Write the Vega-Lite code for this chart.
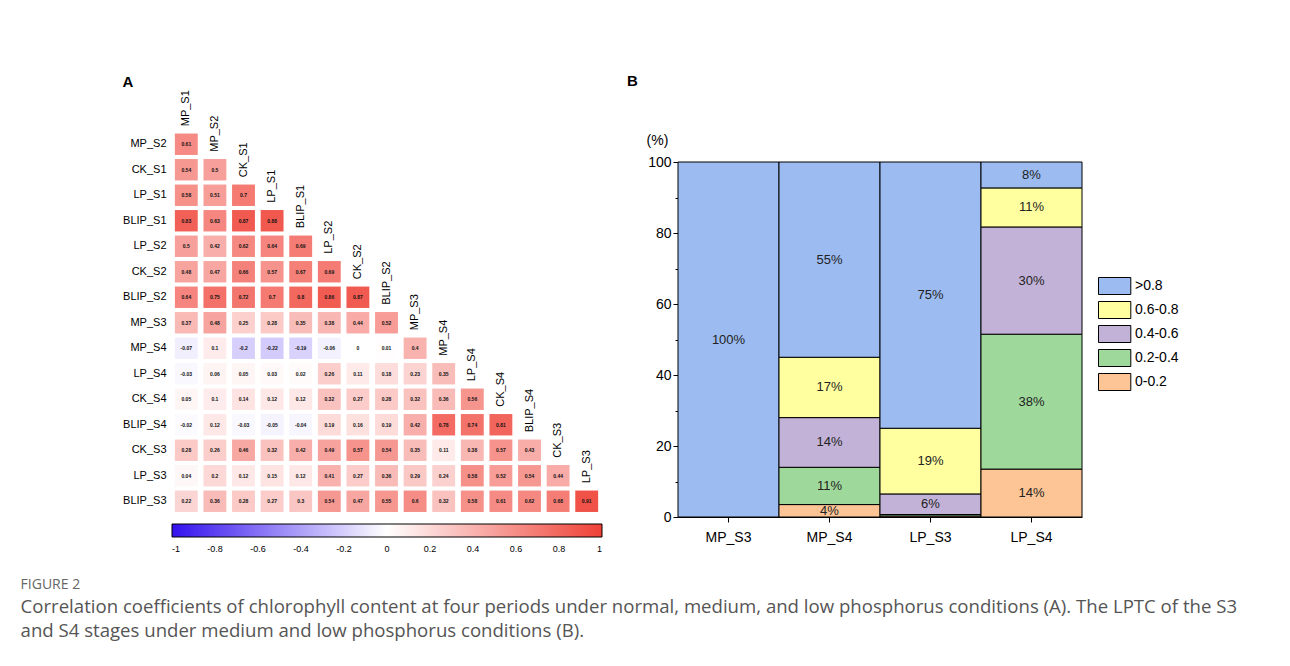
{
  "$schema": "https://vega.github.io/schema/vega-lite/v6.json",
  "padding": {"left": 20, "top": 74, "right": 5, "bottom": 5},
  "config": {"font": "Liberation Sans", "view": {"stroke": null}, "concat": {"spacing": 24}},
  "title": {
    "text": "FIGURE 2",
    "subtitle": ["Correlation coefficients of chlorophyll content at four periods under normal, medium, and low phosphorus conditions (A). The LPTC of the S3", "and S4 stages under medium and low phosphorus conditions (B)."],
    "orient": "bottom", "anchor": "start", "dx": -102, "offset": 24,
    "font": "Open Sans", "fontSize": 14, "fontWeight": "normal", "color": "#666",
    "subtitleFont": "Open Sans", "subtitleFontSize": 18.6, "subtitleColor": "#555", "subtitleLineHeight": 24, "subtitlePadding": 6
  },
  "datasets": {
    "corr": [
      {"y":"MP_S2","x":"MP_S1","r":0.61},
      {"y":"CK_S1","x":"MP_S1","r":0.54},{"y":"CK_S1","x":"MP_S2","r":0.5},
      {"y":"LP_S1","x":"MP_S1","r":0.58},{"y":"LP_S1","x":"MP_S2","r":0.51},{"y":"LP_S1","x":"CK_S1","r":0.7},
      {"y":"BLIP_S1","x":"MP_S1","r":0.83},{"y":"BLIP_S1","x":"MP_S2","r":0.63},{"y":"BLIP_S1","x":"CK_S1","r":0.87},{"y":"BLIP_S1","x":"LP_S1","r":0.88},
      {"y":"LP_S2","x":"MP_S1","r":0.5},{"y":"LP_S2","x":"MP_S2","r":0.42},{"y":"LP_S2","x":"CK_S1","r":0.62},{"y":"LP_S2","x":"LP_S1","r":0.64},{"y":"LP_S2","x":"BLIP_S1","r":0.69},
      {"y":"CK_S2","x":"MP_S1","r":0.48},{"y":"CK_S2","x":"MP_S2","r":0.47},{"y":"CK_S2","x":"CK_S1","r":0.66},{"y":"CK_S2","x":"LP_S1","r":0.57},{"y":"CK_S2","x":"BLIP_S1","r":0.67},{"y":"CK_S2","x":"LP_S2","r":0.69},
      {"y":"BLIP_S2","x":"MP_S1","r":0.64},{"y":"BLIP_S2","x":"MP_S2","r":0.75},{"y":"BLIP_S2","x":"CK_S1","r":0.72},{"y":"BLIP_S2","x":"LP_S1","r":0.7},{"y":"BLIP_S2","x":"BLIP_S1","r":0.8},{"y":"BLIP_S2","x":"LP_S2","r":0.86},{"y":"BLIP_S2","x":"CK_S2","r":0.87},
      {"y":"MP_S3","x":"MP_S1","r":0.37},{"y":"MP_S3","x":"MP_S2","r":0.48},{"y":"MP_S3","x":"CK_S1","r":0.25},{"y":"MP_S3","x":"LP_S1","r":0.28},{"y":"MP_S3","x":"BLIP_S1","r":0.35},{"y":"MP_S3","x":"LP_S2","r":0.38},{"y":"MP_S3","x":"CK_S2","r":0.44},{"y":"MP_S3","x":"BLIP_S2","r":0.52},
      {"y":"MP_S4","x":"MP_S1","r":-0.07},{"y":"MP_S4","x":"MP_S2","r":0.1},{"y":"MP_S4","x":"CK_S1","r":-0.2},{"y":"MP_S4","x":"LP_S1","r":-0.22},{"y":"MP_S4","x":"BLIP_S1","r":-0.19},{"y":"MP_S4","x":"LP_S2","r":-0.06},{"y":"MP_S4","x":"CK_S2","r":0},{"y":"MP_S4","x":"BLIP_S2","r":0.01},{"y":"MP_S4","x":"MP_S3","r":0.4},
      {"y":"LP_S4","x":"MP_S1","r":-0.03},{"y":"LP_S4","x":"MP_S2","r":0.06},{"y":"LP_S4","x":"CK_S1","r":0.05},{"y":"LP_S4","x":"LP_S1","r":0.03},{"y":"LP_S4","x":"BLIP_S1","r":0.02},{"y":"LP_S4","x":"LP_S2","r":0.26},{"y":"LP_S4","x":"CK_S2","r":0.11},{"y":"LP_S4","x":"BLIP_S2","r":0.18},{"y":"LP_S4","x":"MP_S3","r":0.23},{"y":"LP_S4","x":"MP_S4","r":0.35},
      {"y":"CK_S4","x":"MP_S1","r":0.05},{"y":"CK_S4","x":"MP_S2","r":0.1},{"y":"CK_S4","x":"CK_S1","r":0.14},{"y":"CK_S4","x":"LP_S1","r":0.12},{"y":"CK_S4","x":"BLIP_S1","r":0.12},{"y":"CK_S4","x":"LP_S2","r":0.32},{"y":"CK_S4","x":"CK_S2","r":0.27},{"y":"CK_S4","x":"BLIP_S2","r":0.28},{"y":"CK_S4","x":"MP_S3","r":0.32},{"y":"CK_S4","x":"MP_S4","r":0.36},{"y":"CK_S4","x":"LP_S4","r":0.56},
      {"y":"BLIP_S4","x":"MP_S1","r":-0.02},{"y":"BLIP_S4","x":"MP_S2","r":0.12},{"y":"BLIP_S4","x":"CK_S1","r":-0.03},{"y":"BLIP_S4","x":"LP_S1","r":-0.05},{"y":"BLIP_S4","x":"BLIP_S1","r":-0.04},{"y":"BLIP_S4","x":"LP_S2","r":0.19},{"y":"BLIP_S4","x":"CK_S2","r":0.16},{"y":"BLIP_S4","x":"BLIP_S2","r":0.19},{"y":"BLIP_S4","x":"MP_S3","r":0.42},{"y":"BLIP_S4","x":"MP_S4","r":0.78},{"y":"BLIP_S4","x":"LP_S4","r":0.74},{"y":"BLIP_S4","x":"CK_S4","r":0.81},
      {"y":"CK_S3","x":"MP_S1","r":0.28},{"y":"CK_S3","x":"MP_S2","r":0.26},{"y":"CK_S3","x":"CK_S1","r":0.46},{"y":"CK_S3","x":"LP_S1","r":0.32},{"y":"CK_S3","x":"BLIP_S1","r":0.42},{"y":"CK_S3","x":"LP_S2","r":0.49},{"y":"CK_S3","x":"CK_S2","r":0.57},{"y":"CK_S3","x":"BLIP_S2","r":0.54},{"y":"CK_S3","x":"MP_S3","r":0.35},{"y":"CK_S3","x":"MP_S4","r":0.11},{"y":"CK_S3","x":"LP_S4","r":0.38},{"y":"CK_S3","x":"CK_S4","r":0.57},{"y":"CK_S3","x":"BLIP_S4","r":0.43},
      {"y":"LP_S3","x":"MP_S1","r":0.04},{"y":"LP_S3","x":"MP_S2","r":0.2},{"y":"LP_S3","x":"CK_S1","r":0.12},{"y":"LP_S3","x":"LP_S1","r":0.15},{"y":"LP_S3","x":"BLIP_S1","r":0.12},{"y":"LP_S3","x":"LP_S2","r":0.41},{"y":"LP_S3","x":"CK_S2","r":0.27},{"y":"LP_S3","x":"BLIP_S2","r":0.36},{"y":"LP_S3","x":"MP_S3","r":0.29},{"y":"LP_S3","x":"MP_S4","r":0.24},{"y":"LP_S3","x":"LP_S4","r":0.58},{"y":"LP_S3","x":"CK_S4","r":0.52},{"y":"LP_S3","x":"BLIP_S4","r":0.54},{"y":"LP_S3","x":"CK_S3","r":0.44},
      {"y":"BLIP_S3","x":"MP_S1","r":0.22},{"y":"BLIP_S3","x":"MP_S2","r":0.36},{"y":"BLIP_S3","x":"CK_S1","r":0.28},{"y":"BLIP_S3","x":"LP_S1","r":0.27},{"y":"BLIP_S3","x":"BLIP_S1","r":0.3},{"y":"BLIP_S3","x":"LP_S2","r":0.54},{"y":"BLIP_S3","x":"CK_S2","r":0.47},{"y":"BLIP_S3","x":"BLIP_S2","r":0.55},{"y":"BLIP_S3","x":"MP_S3","r":0.6},{"y":"BLIP_S3","x":"MP_S4","r":0.32},{"y":"BLIP_S3","x":"LP_S4","r":0.58},{"y":"BLIP_S3","x":"CK_S4","r":0.61},{"y":"BLIP_S3","x":"BLIP_S4","r":0.62},{"y":"BLIP_S3","x":"CK_S3","r":0.68},{"y":"BLIP_S3","x":"LP_S3","r":0.91}
    ],
    "vars": [
      {"v":"MP_S1"},{"v":"MP_S2"},{"v":"CK_S1"},{"v":"LP_S1"},{"v":"BLIP_S1"},{"v":"LP_S2"},{"v":"CK_S2"},{"v":"BLIP_S2"},
      {"v":"MP_S3"},{"v":"MP_S4"},{"v":"LP_S4"},{"v":"CK_S4"},{"v":"BLIP_S4"},{"v":"CK_S3"},{"v":"LP_S3"}
    ],
    "lptc": [
      {"g":"MP_S3","c":">0.8","p":100,"t":"100%"},
      {"g":"MP_S4","c":"0-0.2","p":3.5,"t":"4%"},
      {"g":"MP_S4","c":"0.2-0.4","p":10.5,"t":"11%"},
      {"g":"MP_S4","c":"0.4-0.6","p":14,"t":"14%"},
      {"g":"MP_S4","c":"0.6-0.8","p":17,"t":"17%"},
      {"g":"MP_S4","c":">0.8","p":55,"t":"55%"},
      {"g":"LP_S3","c":"0-0.2","p":0.3,"t":""},
      {"g":"LP_S3","c":"0.2-0.4","p":0.4,"t":""},
      {"g":"LP_S3","c":"0.4-0.6","p":5.8,"t":"6%"},
      {"g":"LP_S3","c":"0.6-0.8","p":18.5,"t":"19%"},
      {"g":"LP_S3","c":">0.8","p":75,"t":"75%"},
      {"g":"LP_S4","c":"0-0.2","p":13.5,"t":"14%"},
      {"g":"LP_S4","c":"0.2-0.4","p":38,"t":"38%"},
      {"g":"LP_S4","c":"0.4-0.6","p":30.2,"t":"30%"},
      {"g":"LP_S4","c":"0.6-0.8","p":11,"t":"11%"},
      {"g":"LP_S4","c":">0.8","p":7.3,"t":"8%"}
    ]
  },
  "hconcat": [
    {
      "width": 429,
      "height": 408,
      "title": {"text": "A", "anchor": "start", "fontSize": 15, "fontWeight": "bold", "offset": 0, "color": "black"},
      "layer": [
        {
          "data": {"name": "corr"},
          "mark": {"type": "rect"},
          "encoding": {
            "x": {"field": "x", "type": "nominal", "title": null,
                  "scale": {"domain": ["MP_S1","MP_S2","CK_S1","LP_S1","BLIP_S1","LP_S2","CK_S2","BLIP_S2","MP_S3","MP_S4","LP_S4","CK_S4","BLIP_S4","CK_S3","LP_S3"], "paddingInner": 0.2, "paddingOuter": 0.1},
                  "axis": null},
            "y": {"field": "y", "type": "nominal", "title": null,
                  "scale": {"domain": ["MP_S1","MP_S2","CK_S1","LP_S1","BLIP_S1","LP_S2","CK_S2","BLIP_S2","MP_S3","MP_S4","LP_S4","CK_S4","BLIP_S4","CK_S3","LP_S3","BLIP_S3"], "paddingInner": 0.16, "paddingOuter": 0.08},
                  "axis": {"title": null, "domain": false, "ticks": false, "labelPadding": 6, "labelFontSize": 11, "labelColor": "black", "labelExpr": "datum.value == 'MP_S1' ? '' : datum.value"}},
            "color": {"field": "r", "type": "quantitative",
                      "scale": {"domain": [-1, 0, 1], "range": ["#3311ee", "#ffffff", "#ef4136"], "interpolate": "rgb"},
                      "legend": {"orient": "bottom", "direction": "horizontal", "title": null, "gradientLength": 430, "gradientThickness": 13,
                                 "gradientStrokeColor": "black", "gradientStrokeWidth": 1, "offset": 10,
                                 "values": [-1, -0.8, -0.6, -0.4, -0.2, 0, 0.2, 0.4, 0.6, 0.8, 1],
                                 "labelFontSize": 9, "labelColor": "black", "labelOverlap": false, "labelAlign": "center", "labelOffset": 8,
                                 "labelExpr": "replace(format(datum.value, '~g'), '−', '-')"}}
          }
        },
        {
          "data": {"name": "corr"},
          "mark": {"type": "text", "fontSize": 5, "fontWeight": "bold", "color": "#111"},
          "encoding": {
            "x": {"field": "x", "type": "nominal", "title": null},
            "y": {"field": "y", "type": "nominal", "title": null},
            "text": {"field": "r", "type": "nominal"}
          }
        },
        {
          "data": {"name": "vars"},
          "mark": {"type": "text", "angle": 270, "align": "left", "baseline": "middle", "fontSize": 11, "color": "black"},
          "encoding": {
            "x": {"field": "v", "type": "nominal", "title": null},
            "y": {"field": "v", "type": "nominal", "title": null, "bandPosition": 0.85},
            "text": {"field": "v", "type": "nominal"}
          }
        }
      ]
    },
    {
      "width": 404,
      "height": 411,
      "title": {"text": "B", "anchor": "start", "fontSize": 15, "fontWeight": "bold", "offset": 17, "dx": -19, "color": "black"},
      "data": {"name": "lptc"},
      "encoding": {
        "x": {"field": "g", "type": "nominal", "title": null, "sort": ["MP_S3","MP_S4","LP_S3","LP_S4"],
              "scale": {"paddingInner": 0, "paddingOuter": 0},
              "axis": {"labelAngle": 0, "labelFontSize": 14, "labelColor": "black", "domainColor": "black", "tickColor": "black", "tickSize": 5, "labelPadding": 8}}
      },
      "layer": [
        {
          "mark": {"type": "bar", "stroke": "black", "strokeWidth": 1},
          "encoding": {
            "y": {"field": "p", "type": "quantitative", "stack": "zero", "scale": {"domain": [0, 100], "range": [411, 56]},
                  "axis": {"values": [0,10,20,30,40,50,60,70,80,90,100], "grid": false,
                           "labelExpr": "datum.value % 20 === 0 ? datum.label : ''",
                           "tickSize": {"condition": {"test": "datum.value % 20 === 0", "value": 5}, "value": 3},
                           "domainColor": "black", "tickColor": "black", "labelColor": "black", "labelFontSize": 14,
                           "title": "(%)", "titleAngle": 0, "titleX": -21, "titleY": 34, "titleAlign": "center", "titleBaseline": "middle",
                           "titleFontWeight": "normal", "titleFontSize": 14, "titleColor": "black"}},
            "color": {"field": "c", "type": "nominal",
                      "scale": {"domain": [">0.8","0.6-0.8","0.4-0.6","0.2-0.4","0-0.2"], "range": ["#9cbbf1","#ffffa0","#c2b2d8","#9fd89b","#fdc595"]},
                      "legend": {"orient": "none", "legendX": 420, "legendY": 171, "title": null,
                                 "symbolType": "M-1,-1H2.8V1H-1Z", "symbolSize": 289,
                                 "symbolStrokeColor": "black", "symbolStrokeWidth": 1, "symbolOpacity": 1,
                                 "labelFontSize": 14, "labelColor": "black", "labelOffset": 19, "rowPadding": 2}},
            "order": {"field": "c", "sort": "ascending"}
          }
        },
        {
          "mark": {"type": "text", "fontSize": 13, "color": "#222"},
          "encoding": {
            "y": {"field": "p", "type": "quantitative", "stack": "zero", "bandPosition": 0.5},
            "detail": {"field": "c"},
            "order": {"field": "c", "sort": "ascending"},
            "text": {"field": "t", "type": "nominal"}
          }
        }
      ]
    }
  ]
}
